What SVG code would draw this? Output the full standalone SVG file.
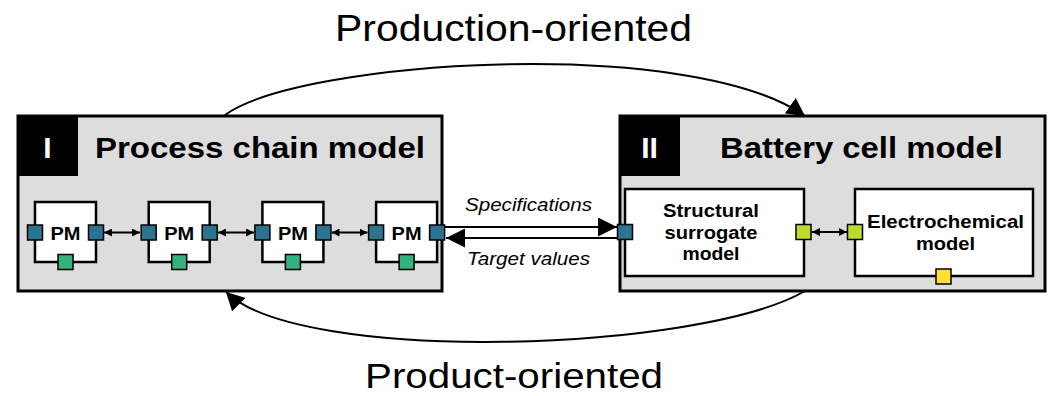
<svg xmlns="http://www.w3.org/2000/svg" width="1049" height="396" viewBox="0 0 1049 396">
<style>
.big{fill:#dddddd;stroke:#000;stroke-width:3}
.hdr{fill:#000}
.sub{fill:#fff;stroke:#000;stroke-width:2.5}
.pb{fill:#2c7390;stroke:#000;stroke-width:1.5}
.pg{fill:#33b27d;stroke:#000;stroke-width:1.5}
.pl{fill:#bcdb2a;stroke:#000;stroke-width:1.5}
.py{fill:#ffe033;stroke:#000;stroke-width:1.5}
.t{font-family:"Liberation Sans",Arial,sans-serif;fill:#000}
.b{font-weight:bold}
.i{font-style:italic}
.ln{fill:none;stroke:#000;stroke-width:1.8}
.cv{fill:none;stroke:#000;stroke-width:2}
</style>
<defs>
<marker id="sm" viewBox="0 0 10 10" refX="10" refY="5" markerWidth="8" markerHeight="8" markerUnits="userSpaceOnUse" orient="auto-start-reverse" preserveAspectRatio="none"><path d="M0,0 L10,5 L0,10 z" fill="#000"/></marker>
<marker id="bg" viewBox="0 0 10 10" refX="10" refY="5" markerWidth="19" markerHeight="19" markerUnits="userSpaceOnUse" orient="auto" preserveAspectRatio="none"><path d="M0,0 L10,5 L0,10 z" fill="#000"/></marker>
<marker id="cv" viewBox="0 0 10 10" refX="10" refY="5" markerWidth="18" markerHeight="19" markerUnits="userSpaceOnUse" orient="auto" preserveAspectRatio="none"><path d="M0,0 L10,5 L0,10 z" fill="#000"/></marker>
</defs>

<g id="node-process-chain">
<rect class="big" x="18" y="116" width="424" height="175"/>
<rect class="hdr" x="17" y="115" width="61" height="61"/>
<text class="t b" x="47.5" y="158" font-size="30" text-anchor="middle" style="fill:#fff">I</text>
<text class="t b" x="95" y="158" font-size="30" textLength="330" lengthAdjust="spacingAndGlyphs">Process chain model</text>
</g>

<g id="node-pm1">
<rect class="sub" x="35" y="202" width="61" height="60"/>
<text class="t b" x="65.5" y="240" font-size="18.5" text-anchor="middle" textLength="30" lengthAdjust="spacingAndGlyphs">PM</text>
<rect class="pb" x="27.5" y="225" width="15" height="15"/>
<rect class="pb" x="88.5" y="225" width="15" height="15"/>
<rect class="pg" x="58" y="254.5" width="15" height="15"/>
</g>
<g id="node-pm2">
<rect class="sub" x="148.7" y="202" width="61" height="60"/>
<text class="t b" x="179.2" y="240" font-size="18.5" text-anchor="middle" textLength="30" lengthAdjust="spacingAndGlyphs">PM</text>
<rect class="pb" x="141.2" y="225" width="15" height="15"/>
<rect class="pb" x="202.2" y="225" width="15" height="15"/>
<rect class="pg" x="171.7" y="254.5" width="15" height="15"/>
</g>
<g id="node-pm3">
<rect class="sub" x="262.4" y="202" width="61" height="60"/>
<text class="t b" x="292.9" y="240" font-size="18.5" text-anchor="middle" textLength="30" lengthAdjust="spacingAndGlyphs">PM</text>
<rect class="pb" x="254.9" y="225" width="15" height="15"/>
<rect class="pb" x="315.9" y="225" width="15" height="15"/>
<rect class="pg" x="285.4" y="254.5" width="15" height="15"/>
</g>
<g id="node-pm4">
<rect class="sub" x="376.1" y="202" width="61" height="60"/>
<text class="t b" x="406.6" y="240" font-size="18.5" text-anchor="middle" textLength="30" lengthAdjust="spacingAndGlyphs">PM</text>
<rect class="pb" x="368.6" y="225" width="15" height="15"/>
<rect class="pb" x="429.6" y="225" width="15" height="15"/>
<rect class="pg" x="399.1" y="254.5" width="15" height="15"/>
</g>

<g id="node-battery-cell">
<rect class="big" x="620" y="116" width="425" height="175"/>
<rect class="hdr" x="619" y="115" width="61" height="61"/>
<text class="t b" x="649.5" y="158" font-size="30" text-anchor="middle" style="fill:#fff">II</text>
<text class="t b" x="720" y="158" font-size="30" textLength="283" lengthAdjust="spacingAndGlyphs">Battery cell model</text>
</g>

<g id="node-structural">
<rect class="sub" x="625" y="189" width="179" height="87"/>
<text class="t b" x="711" y="217" font-size="18" text-anchor="middle" textLength="96" lengthAdjust="spacingAndGlyphs">Structural</text>
<text class="t b" x="711" y="238.5" font-size="18" text-anchor="middle" textLength="93" lengthAdjust="spacingAndGlyphs">surrogate</text>
<text class="t b" x="711" y="260" font-size="18" text-anchor="middle" textLength="57" lengthAdjust="spacingAndGlyphs">model</text>
<rect class="pb" x="617.5" y="224.5" width="15" height="15"/>
<rect class="pl" x="796" y="224.5" width="15" height="15"/>
</g>

<g id="node-electrochemical">
<rect class="sub" x="855" y="189" width="178" height="87"/>
<text class="t b" x="945.5" y="228" font-size="18" text-anchor="middle" textLength="157" lengthAdjust="spacingAndGlyphs">Electrochemical</text>
<text class="t b" x="945.5" y="249.5" font-size="18" text-anchor="middle" textLength="59" lengthAdjust="spacingAndGlyphs">model</text>
<rect class="pl" x="847.5" y="224.5" width="15" height="15"/>
<rect class="py" x="936" y="269" width="15" height="15"/>
</g>

<g id="connectors">
<path class="cv" d="M225,115 C300,60 690,35 805,116" marker-end="url(#cv)"/>
<path class="cv" d="M805,291 C700,352 300,365 226,292" marker-end="url(#cv)"/>
<path class="ln" d="M104,232.5 H140" marker-start="url(#sm)" marker-end="url(#sm)"/>
<path class="ln" d="M218,232.5 H254" marker-start="url(#sm)" marker-end="url(#sm)"/>
<path class="ln" d="M331.5,232.5 H367.5" marker-start="url(#sm)" marker-end="url(#sm)"/>
<path class="ln" d="M812,232 H847" marker-start="url(#sm)" marker-end="url(#sm)"/>
<path class="ln" d="M445,227 H617" marker-end="url(#bg)"/>
<path class="ln" d="M617,238 H446" marker-end="url(#bg)"/>
<text class="t i" x="465" y="211" font-size="18" textLength="127" lengthAdjust="spacingAndGlyphs">Specifications</text>
<text class="t i" x="467" y="265" font-size="18" textLength="123" lengthAdjust="spacingAndGlyphs">Target values</text>
<text class="t" x="335" y="41" font-size="36" textLength="357" lengthAdjust="spacingAndGlyphs">Production-oriented</text>
<text class="t" x="365" y="388" font-size="35" textLength="298" lengthAdjust="spacingAndGlyphs">Product-oriented</text>
</g>
</svg>
